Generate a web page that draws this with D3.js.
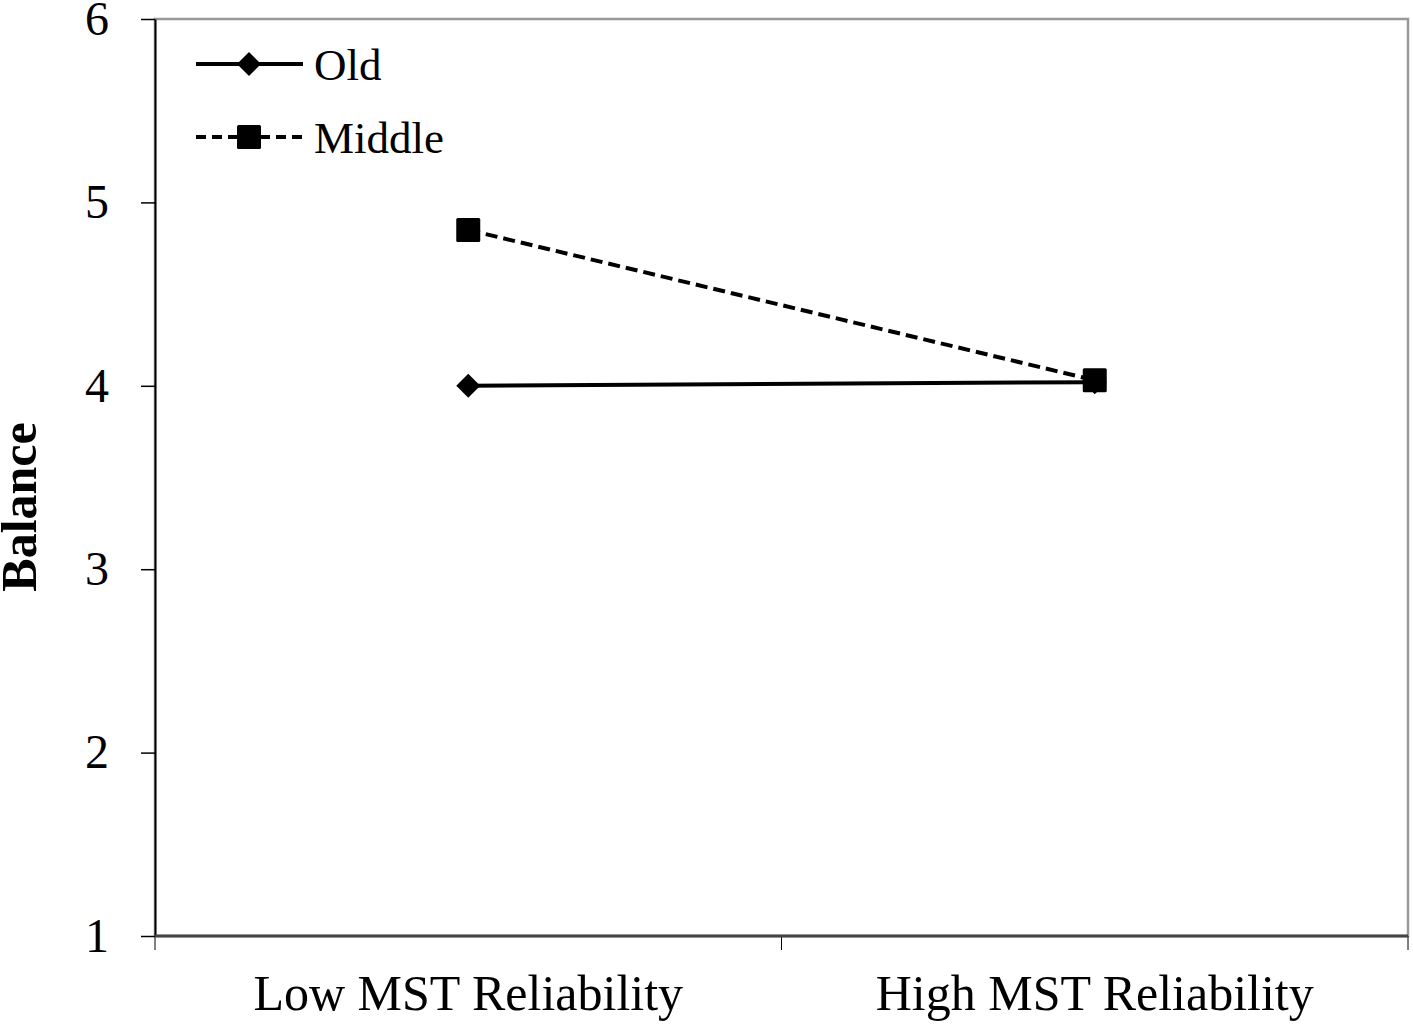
<!DOCTYPE html>
<html>
<head>
    <meta charset="utf-8">
    <style>
        body { margin: 0; background: #fff; }
        svg { display: block; }
        text { font-family: 'Liberation Serif', 'Times New Roman', serif; fill: #000; }
        .y .domain { stroke: #000; stroke-width: 2px; }
        .y .tick line { stroke: #000; stroke-width: 1.5px; }
        .y .tick text { font-size: 48px; }
        .ylabel { font-size: 50px; font-weight: bold; }
        .legend text { font-size: 45px; }
    </style>
</head>
<body>
<svg width="1413" height="1025"></svg>
<script src="https://d3js.org/d3.v7.min.js"></script>
<script>
    let categories = ["Low MST Reliability", "High MST Reliability"]
    let seriesNames = ["Old", "Middle"]
    let oldValues = [4.0, 4.02]
    let middleValues = [4.85, 4.03]
    let yTicks = [1, 2, 3, 4, 5, 6]

    let width = 1413
    let height = 1025
    let margin = { top: 19, right: 5, bottom: 89, left: 155 }

    let svg = d3.select("svg")

    let x = d3.scaleBand()
        .domain(categories)
        .range([margin.left, width - margin.right])

    let y = d3.scaleLinear()
        .domain([1, 6])
        .range([height - margin.bottom, margin.top])

    // plot frame (grey top/right)
    svg.append("rect")
        .attr("x", margin.left)
        .attr("y", y(6))
        .attr("width", width - margin.right - margin.left)
        .attr("height", y(1) - y(6))
        .attr("fill", "none")
        .attr("stroke", "#999")
        .attr("stroke-width", 2.5)

    svg.append("g")
        .attr("class", "y")
        .attr("transform", `translate(${margin.left},0)`)
        .call(d3.axisLeft(y).tickValues(yTicks).tickFormat(d3.format("d"))
            .tickSize(14).tickPadding(32).tickSizeOuter(0))

    // x axis: tick marks at category boundaries
    let bounds = [margin.left].concat(categories.map(c => x(c) + x.bandwidth()))
    svg.append("g")
        .selectAll("line")
        .data(bounds)
        .join("line")
        .attr("x1", d => d).attr("x2", d => d)
        .attr("y1", y(1)).attr("y2", y(1) + 14)
        .attr("stroke", "#000")
        .attr("stroke-width", 1)

    svg.append("line")
        .attr("x1", margin.left).attr("x2", width - margin.right)
        .attr("y1", y(1)).attr("y2", y(1))
        .attr("stroke", "#444")
        .attr("stroke-width", 3)

    svg.append("g")
        .selectAll("text")
        .data(categories)
        .join("text")
        .attr("x", d => x(d) + x.bandwidth() / 2)
        .attr("y", 1010)
        .attr("text-anchor", "middle")
        .style("font-size", "50px")
        .text(d => d)

    svg.append("text")
        .attr("class", "ylabel")
        .attr("transform", "translate(36, 507) rotate(-90)")
        .attr("text-anchor", "middle")
        .text("Balance")

    let cx = d => x(d) + x.bandwidth() / 2

    let line = d3.line()
        .x(d => cx(d.cat))
        .y(d => y(d.val))

    let oldData = categories.map((c, i) => ({ cat: c, val: oldValues[i] }))
    let middleData = categories.map((c, i) => ({ cat: c, val: middleValues[i] }))

    svg.append("path")
        .datum(oldData)
        .attr("d", line)
        .attr("fill", "none")
        .attr("stroke", "#000")
        .attr("stroke-width", 4)

    svg.append("path")
        .datum(middleData)
        .attr("d", line)
        .attr("fill", "none")
        .attr("stroke", "#000")
        .attr("stroke-width", 4)
        .attr("stroke-dasharray", "12,6")

    let diamond = "M0,-12L12,0L0,12L-12,0Z"

    svg.append("g")
        .selectAll("path")
        .data(oldData)
        .join("path")
        .attr("d", diamond)
        .attr("transform", d => `translate(${cx(d.cat)},${y(d.val)})`)
        .attr("fill", "#000")

    svg.append("g")
        .selectAll("rect")
        .data(middleData)
        .join("rect")
        .attr("x", d => cx(d.cat) - 12)
        .attr("y", d => y(d.val) - 12)
        .attr("width", 24)
        .attr("height", 24)
        .attr("rx", 1.5)
        .attr("fill", "#000")

    // legend
    let legend = svg.append("g").attr("class", "legend")
    let legendY = [64, 137]
    seriesNames.forEach(function (name, i) {
        let g = legend.append("g").attr("transform", `translate(0, ${legendY[i]})`)
        g.append("line")
            .attr("x1", 196).attr("x2", 303)
            .attr("stroke", "#000")
            .attr("stroke-width", 4)
            .attr("stroke-dasharray", i == 1 ? "10,6" : null)
        if (i == 0) {
            g.append("path")
                .attr("d", diamond)
                .attr("transform", "translate(249,0)")
                .attr("fill", "#000")
        } else {
            g.append("rect")
                .attr("x", 237).attr("y", -12)
                .attr("width", 24).attr("height", 24)
                .attr("rx", 1.5)
                .attr("fill", "#000")
        }
        g.append("text")
            .attr("x", 314)
            .attr("y", 16)
            .text(name)
    })
</script>
</body>
</html>
